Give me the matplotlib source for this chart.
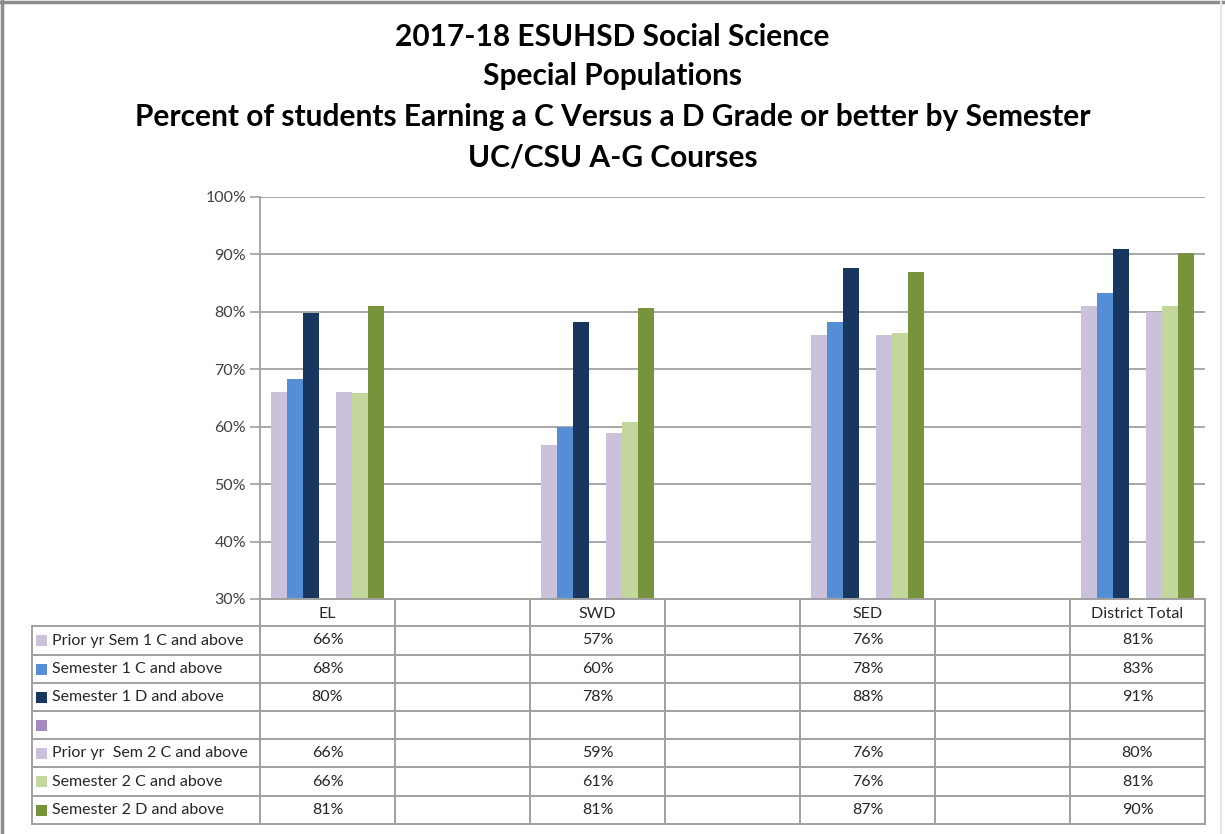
import matplotlib
matplotlib.use("Agg")
import matplotlib.pyplot as plt
import numpy as np
from matplotlib.patches import Rectangle
from matplotlib.lines import Line2D
from matplotlib.transforms import blended_transform_factory

plt.rcParams['font.family'] = ['Lato', 'DejaVu Sans']

# ---------------- data ----------------
categories = ["EL", "", "SWD", "", "SED", "", "District Total"]
series_names = ["Prior yr Sem 1 C and above", "Semester 1 C and above",
                "Semester 1 D and above", "",
                "Prior yr  Sem 2 C and above", "Semester 2 C and above",
                "Semester 2 D and above"]
# values per series for EL, SWD, SED, District Total (None for blank columns)
prior_sem1_c = [66.1, None, 56.9, None, 76.0, None, 81.0]
sem1_c       = [68.3, None, 60.0, None, 78.2, None, 83.3]
sem1_d       = [79.8, None, 78.2, None, 87.7, None, 90.9]
blank_series = [None, None, None, None, None, None, None]
prior_sem2_c = [66.1, None, 58.9, None, 76.0, None, 80.0]
sem2_c       = [65.8, None, 60.8, None, 76.3, None, 81.1]
sem2_d       = [81.0, None, 80.7, None, 87.0, None, 90.2]
series_values = [prior_sem1_c, sem1_c, sem1_d, blank_series,
                 prior_sem2_c, sem2_c, sem2_d]
colors = ["#CCC1DA", "#558ED5", "#17375E", "#A48BC4", "#CCC1DA", "#C3D69B", "#77933C"]
yticks = [30, 40, 50, 60, 70, 80, 90, 100]

title_lines = ["2017-18 ESUHSD Social Science", "Special Populations",
               "Percent of students Earning a C Versus a D Grade or better by Semester",
               "UC/CSU A-G Courses"]

# ---------------- figure ----------------
W, H = 1225, 834
fig = plt.figure(figsize=(W / 100, H / 100), dpi=100)
fig.patch.set_facecolor("white")

def fx(px):
    return px / W

def fy(py):
    return 1 - py / H

ax_l, ax_r, ax_t, ax_b = 260, 1205, 197, 599
ax = fig.add_axes([fx(ax_l), fy(ax_b), fx(ax_r) - fx(ax_l), fy(ax_t) - fy(ax_b)])

n_cat = len(categories)
n_ser = len(series_names)
slot = 0.83 / n_ser
x = np.arange(n_cat)
for i, (vals, col) in enumerate(zip(series_values, colors)):
    xs = [x[k] + (i - (n_ser - 1) / 2) * slot for k in range(n_cat) if vals[k] is not None]
    hs = [vals[k] - 30 for k in range(n_cat) if vals[k] is not None]
    if xs:
        ax.bar(xs, hs, width=slot, bottom=30, color=col, zorder=3, linewidth=0)

ax.set_xlim(-0.5, n_cat - 0.5)
ax.set_ylim(30, 100)
ax.set_yticks(yticks)
ax.set_yticklabels([f"{t}%" for t in yticks], fontsize=11.5, color="#404040")
ax.set_xticks([])
ax.tick_params(axis='y', length=7, width=1.2, color="#A0A0A0", pad=3)
ax.grid(axis='y', color="#A0A0A0", linewidth=1.3, zorder=0)
for s in ["top", "right", "bottom"]:
    ax.spines[s].set_visible(False)
ax.spines["left"].set_color("#A0A0A0")
ax.spines["left"].set_linewidth(1.3)

# ---------------- title ----------------
title_y = [37, 76, 117, 157]
for t, py in zip(title_lines, title_y):
    fig.text(0.5, fy(py), t, ha="center", va="center", fontsize=21.5,
             fontweight="bold", color="black")

# ---------------- data table ----------------
lc = "#A0A0A0"
lw = 1.4
fs = 11.5
tr = blended_transform_factory(ax.transData, fig.transFigure)
rows = [599, 626, 655, 683, 711, 739, 767, 796, 824]
label_left = 32

# horizontal lines
fig.add_artist(Line2D([fx(ax_l), fx(ax_r)], [fy(rows[0])] * 2, color=lc, lw=lw))
for py in rows[1:]:
    fig.add_artist(Line2D([fx(label_left), fx(ax_r)], [fy(py)] * 2, color=lc, lw=lw))
# vertical lines
for k in range(n_cat + 1):
    fig.add_artist(Line2D([k - 0.5, k - 0.5], [fy(rows[0]), fy(rows[-1])],
                          color=lc, lw=lw, transform=tr))
fig.add_artist(Line2D([fx(label_left)] * 2, [fy(rows[1]), fy(rows[-1])], color=lc, lw=lw))

# header
for k, c in enumerate(categories):
    if c:
        fig.text(k, fy((rows[0] + rows[1]) / 2 + 1), c, transform=tr, ha="center",
                 va="center", fontsize=fs, color="#262626")
# rows
for i, (name, vals, col) in enumerate(zip(series_names, series_values, colors)):
    cy = (rows[i + 1] + rows[i + 2]) / 2
    fig.add_artist(Rectangle((fx(36), fy(cy + 5.5)), fx(11), 11 / H, color=col,
                             transform=fig.transFigure, lw=0))
    if name:
        fig.text(fx(52), fy(cy), name, ha="left", va="center", fontsize=fs,
                 color="#262626")
    for k in range(n_cat):
        if vals[k] is not None:
            fig.text(k, fy(cy), f"{round(vals[k]):.0f}%", transform=tr,
                     ha="center", va="center", fontsize=fs, color="#262626")

# outer frame
fig.add_artist(Line2D([fx(1), fx(W)], [fy(2)] * 2, color="#8C8C8C", lw=2.5))
fig.add_artist(Line2D([fx(2)] * 2, [fy(1), fy(H)], color="#8C8C8C", lw=2.5))
fig.add_artist(Line2D([fx(1221)] * 2, [fy(2), fy(H)], color="#E6E6E6", lw=1.5))

fig.savefig("out.png", dpi=100, facecolor="white")
